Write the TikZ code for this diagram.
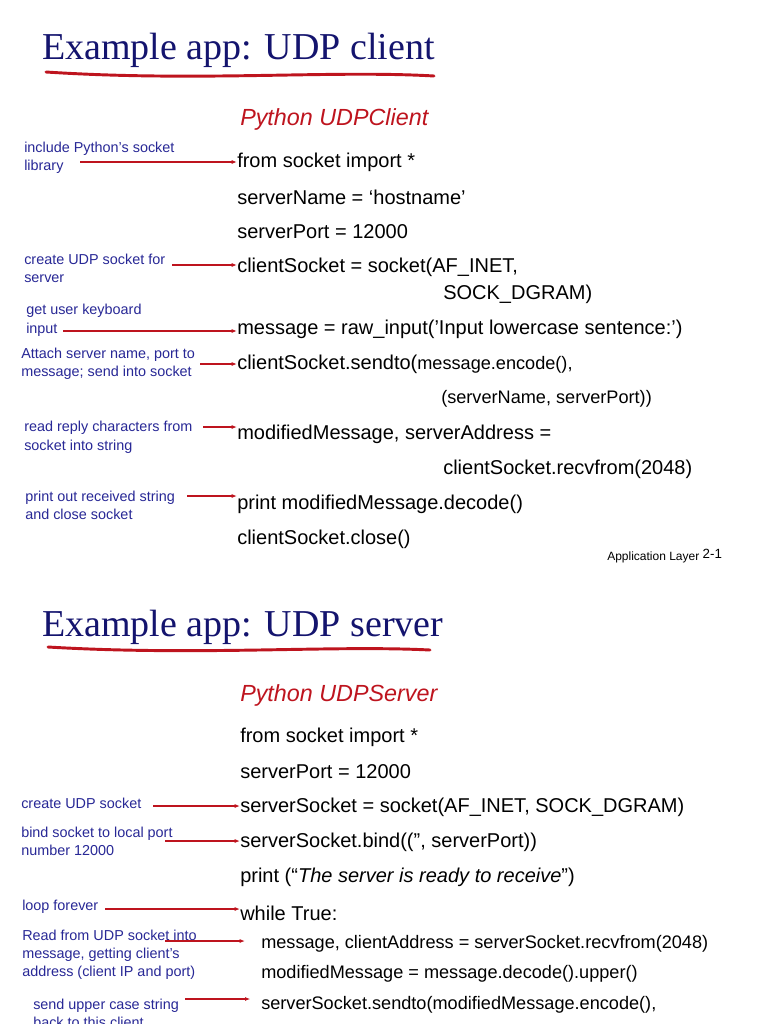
\documentclass[tikz,border=0pt]{standalone}
\usepackage{fontspec}
\setmainfont{Liberation Sans}
\newfontfamily\titlefont{Liberation Serif}
\usetikzlibrary{arrows.meta}
\definecolor{navy}{RGB}{20,20,110}
\definecolor{annot}{RGB}{40,40,150}
\definecolor{dred}{RGB}{190,20,30}
\begin{document}
\begin{tikzpicture}[x=0.75pt,y=-0.75pt,
  code/.style={anchor=west,inner sep=0pt,font=\fontsize{15}{17}\selectfont},
  scode/.style={anchor=west,inner sep=0pt,font=\fontsize{13.6}{16}\selectfont},
  ann/.style={anchor=west,inner sep=0pt,align=left,text=annot,font=\fontsize{10.8}{13.5}\selectfont},
  ttl/.style={anchor=west,inner sep=0pt,text=navy,font=\titlefont\fontsize{28.5}{31}\selectfont},
  sub/.style={anchor=west,inner sep=0pt,text=dred,font=\itshape\fontsize{17.5}{20}\selectfont},
  arr/.style={draw=dred,line width=0.8pt,-{Latex[length=4pt,width=3pt]}},
  ul/.style={draw=dred,line width=2.2pt,line cap=round}]
\useasboundingbox (0,0) rectangle (768,1024);
\fill[white] (0,0) rectangle (768,1024);
% ---------- client ----------
\node[ttl] (t1) at (42,50) {Example app: UDP client};
\draw[ul] (46,72) .. controls (200,82) and (330,70) .. (434,76);
\node[sub] (s1) at (240,119) {Python UDPClient};
\node[code] (c1) at (237,162) {from socket import *};
\node[code] (c2) at (237,197) {serverName = ‘hostname’};
\node[code] (c3) at (237,232) {serverPort = 12000};
\node[code] (c4) at (237,267) {clientSocket = socket(AF\_INET,};
\node[code] (c5) at (443,294) {SOCK\_DGRAM)};
\node[code] (c6) at (237,329) {message = raw\_input(’Input lowercase sentence:’)};
\node[code] (c7) at (237,364) {clientSocket.sendto(\fontsize{13.6}{16}\selectfont message.encode(),};
\node[scode] (c8) at (441,399) {(serverName, serverPort))};
\node[code] (c9) at (237,434) {modifiedMessage, serverAddress =};
\node[code] (c10) at (443,469) {clientSocket.recvfrom(2048)};
\node[code] (c11) at (237,504) {print modifiedMessage.decode()};
\node[code] (c12) at (237,539) {clientSocket.close()};
\node[anchor=west,inner sep=0pt,font=\fontsize{9}{10}\selectfont] (al) at (607,556) {Application Layer \fontsize{10}{12}\selectfont\raisebox{1pt}{2-1}};
\node[ann] (a1) at (24,158) {include Python’s socket\\library};
\node[ann] (a2) at (24,268) {create UDP socket for\\server};
\node[ann] (a3) at (26,320) {get user keyboard\\[1pt]input};
\node[ann] (a4) at (21,364) {Attach server name, port to\\message; send into socket};
\node[ann] (a5) at (24,437) {read reply characters from\\[1pt]socket into string};
\node[ann] (a6) at (25,505) {print out received string\\and close socket};
\coordinate (p1) at (80,162); \coordinate (p2) at (172,265);
\coordinate (p3) at (63,331); \coordinate (p4) at (200,364);
\coordinate (p5) at (203,427); \coordinate (p6) at (187,496);
\draw[arr] (p1) -- (p1 -| c1.west);
\draw[arr] (p2) -- (p2 -| c4.west);
\draw[arr] (p3) -- (p3 -| c6.west);
\draw[arr] (p4) -- (p4 -| c7.west);
\draw[arr] (p5) -- (p5 -| c9.west);
\draw[arr] (p6) -- (p6 -| c11.west);
% ---------- server ----------
\node[ttl] (t2) at (42,627) {Example app: UDP server};
\draw[ul] (48,647) .. controls (200,656) and (330,645) .. (430,650);
\node[sub] (s2) at (240,695) {Python UDPServer};
\node[code] (d1) at (240,737) {from socket import *};
\node[code] (d2) at (240,772) {serverPort = 12000};
\node[code] (d3) at (240,807) {serverSocket = socket(AF\_INET, SOCK\_DGRAM)};
\node[code] (d4) at (240,842) {serverSocket.bind(('', serverPort))};
\node[code] (d5) at (240,877) {print (“\textit{The server is ready to receive}”)};
\node[code] (d6) at (240,913) {while True:};
\node[scode] (d7) at (261,944) {message, clientAddress = serverSocket.recvfrom(2048)};
\node[scode] (d8) at (261,974) {modifiedMessage = message.decode().upper()};
\node[scode] (d9) at (261,1005) {serverSocket.sendto(modifiedMessage.encode(),};
\node[ann] (b1) at (21,803) {create UDP socket};
\node[ann] (b2) at (21,841) {bind socket to local port\\number 12000};
\node[ann] (b3) at (22,907) {loop forever};
\node[ann] (b4) at (22,955) {Read from UDP socket into\\message, getting client’s\\address (client IP and port)};
\node[ann] (b5) at (33,1013) {send upper case string\\back to this client};
\coordinate (q1) at (153,806); \coordinate (q2) at (165,841);
\coordinate (q3) at (105,909); \coordinate (q4) at (165,941);
\coordinate (q5) at (185,999);
\draw[arr] (q1) -- (q1 -| d3.west);
\draw[arr] (q2) -- (q2 -| d4.west);
\draw[arr] (q3) -- (q3 -| d6.west);
\draw[arr] (q4) -- ([xshift=-12pt]q4 -| d7.west);
\draw[arr] (q5) -- ([xshift=-8pt]q5 -| d9.west);
\end{tikzpicture}
\end{document}
